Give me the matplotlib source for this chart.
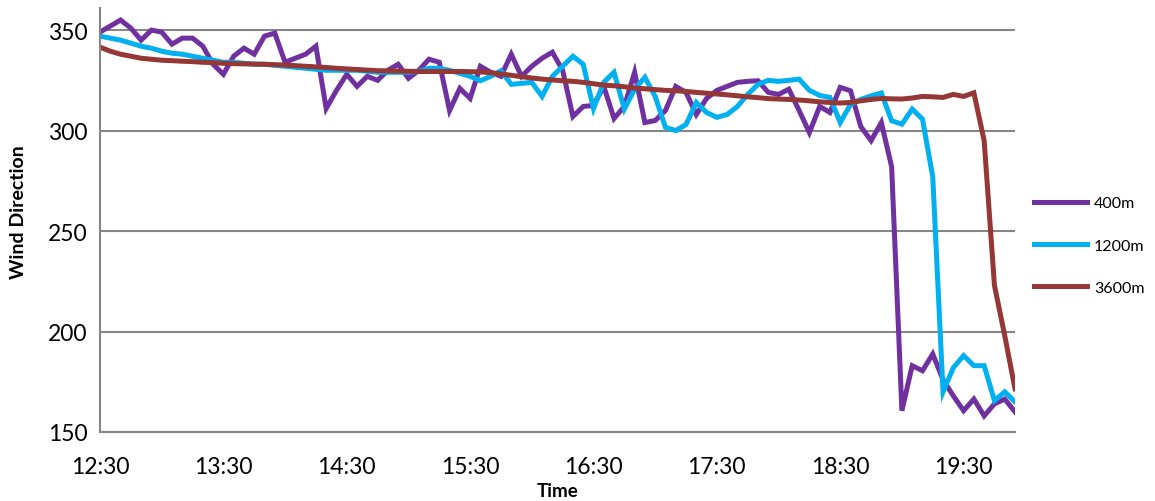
import matplotlib.pyplot as plt

plt.rcParams['font.family'] = ['Lato', 'DejaVu Sans']

# wind direction every 5 minutes from 12:30
dir_400 = [349, 352, 355, 351, 345, 350, 349, 343, 346, 346,
           342, 333, 328, 337, 341, 338, 347, 348.5, 334, 336,
           338, 342, 311, 320, 328, 322, 327, 325, 330, 333,
           326, 330, 335.5, 334, 310, 321, 316, 332, 329, 327,
           338, 327, 332, 336, 339, 330, 307, 312, 312.5, 322,
           306, 312, 329, 304, 305, 310, 322, 319, 308, 316,
           320, 322, 324, 324.5, 324.8, 319, 318, 320.6, 310, 299,
           312, 309, 321.5, 319.8, 302, 295, 304, 282, 160.6, 183,
           180.5, 188.8, 176, 168, 160.6, 166.4, 158, 164, 166.4, 160]
dir_1200 = [347, 346, 345, 343.5, 342, 341, 339.5, 338.5, 338, 337,
            336, 335, 334, 334, 333.5, 333, 333, 332.5, 332, 331.5,
            331, 330.5, 330, 330, 330, 330, 329.5, 329, 329, 329,
            329, 329.5, 331, 331, 330, 328.5, 327, 324.8, 327, 329.8,
            323, 323.5, 324, 317, 327, 332, 337, 333, 311, 324,
            329, 310.7, 320.6, 326.5, 317, 301.6, 300, 303, 314, 309,
            306.6, 308, 312, 318, 323, 325, 324.5, 325, 325.6, 320,
            317.5, 316.5, 304, 313, 315.5, 317.3, 318.7, 304.9, 303.2, 310.7,
            305.7, 277, 170, 182, 188, 183, 183, 165.6, 170, 165]
dir_3600 = [341.5, 339.5, 338, 337, 336, 335.5, 335, 334.8, 334.5, 334.3,
            334, 333.8, 333.5, 333.3, 333.2, 333.1, 333, 332.8, 332.6, 332.3,
            332, 331.7, 331.4, 331, 330.7, 330.4, 330.1, 329.8, 329.7, 329.6,
            329.5, 329.4, 329.4, 329.4, 329.4, 329.4, 329.3, 329.2, 328.8, 328.2,
            327.5, 326.8, 326.2, 325.6, 325.2, 324.8, 324.5, 324, 323.3, 322.6,
            322.3, 321.8, 321.2, 320.8, 320.4, 320, 319.8, 319.5, 319, 318.6,
            318.2, 317.8, 317.3, 316.8, 316.4, 315.9, 315.7, 315.5, 315.2, 314.8,
            314.3, 314, 313.7, 314, 314.8, 315.5, 316, 315.8, 315.7, 316.2,
            317, 316.8, 316.5, 318, 317, 318.8, 295, 223, 198, 171.5]
hour_labels = ['12:30', '13:30', '14:30', '15:30', '16:30', '17:30', '18:30', '19:30']

fig = plt.figure(figsize=(11.55, 5.02), dpi=100)
ax = fig.add_axes([100 / 1155, 69 / 502, 915 / 1155, 424 / 502])

x = range(len(dir_400))
ax.plot(x, dir_400, color='#7030A0', lw=3.6, label='400m', solid_joinstyle='miter')
ax.plot(x, dir_1200, color='#00B0F0', lw=3.6, label='1200m', solid_joinstyle='miter')
ax.plot(x, dir_3600, color='#953735', lw=3.6, label='3600m', solid_joinstyle='miter')

ax.set_xlim(0, len(dir_400) - 1)
ax.set_ylim(150, 361)
ax.set_yticks([150, 200, 250, 300, 350])
ax.set_xticks(range(0, 12 * len(hour_labels), 12))
ax.set_xticklabels(hour_labels)
ax.tick_params(axis='both', length=0, labelsize=16.5)
ax.tick_params(axis='x', pad=17)
ax.tick_params(axis='y', pad=9)

ax.yaxis.grid(True, color='#868686', lw=1.5)
ax.set_axisbelow(True)
for s in ['top', 'right']:
    ax.spines[s].set_visible(False)
for s in ['left', 'bottom']:
    ax.spines[s].set_color('#868686')
    ax.spines[s].set_linewidth(1.5)

ax.set_xlabel('Time', fontsize=13.5, fontweight='bold', labelpad=4)
ax.set_ylabel('Wind Direction', fontsize=14, fontweight='bold')
ax.yaxis.set_label_coords(-0.08, 0.52)

ax.legend(loc='upper left', bbox_to_anchor=(1.005, 0.59), frameon=False,
          fontsize=11.5, handlelength=3.3, labelspacing=1.75, handletextpad=0.45)

plt.savefig('out.png', dpi=100)
plt.close()
